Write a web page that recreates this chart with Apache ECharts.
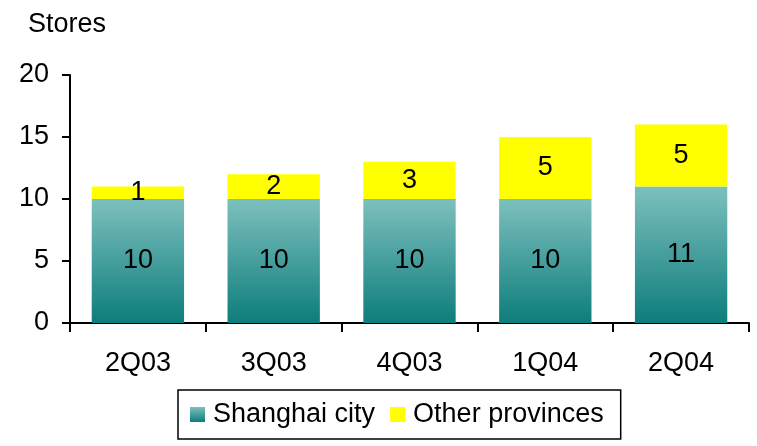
<!DOCTYPE html>
<html>
<head>
<meta charset="utf-8">
<script src="https://cdn.jsdelivr.net/npm/echarts@6/dist/echarts.min.js"></script>
<style>
  html, body { margin: 0; padding: 0; background: #fff; }
  #chart { width: 757px; height: 446px; }
</style>
</head>
<body>
<div id="chart"></div>
<script>
// Store counts per quarter
const quarters = ['2Q03', '3Q03', '4Q03', '1Q04', '2Q04'];
const shanghaiCity = [10, 10, 10, 10, 11];
const otherProvinces = [1, 2, 3, 5, 5];
const yTicks = [0, 5, 10, 15, 20];

const FONT = '"Liberation Sans", Arial, sans-serif';
const chart = echarts.init(document.getElementById('chart'));

const tealGradient = new echarts.graphic.LinearGradient(0, 0, 0, 1, [
  { offset: 0, color: '#7dc0be' },
  { offset: 1, color: '#0d7d7b' }
]);

const labelStyle = {
  show: true,
  position: 'inside',
  color: '#000',
  fontFamily: FONT,
  fontSize: 27
};

chart.setOption({
  animation: false,
  textStyle: { fontFamily: FONT },
  grid: { left: 70, right: 8, top: 75, bottom: 123 },
  title: {
    text: 'Stores',
    left: 23,
    top: 6,
    textStyle: { fontFamily: FONT, fontSize: 27, fontWeight: 'normal', color: '#000' }
  },
  legend: {
    left: 178,
    top: 390,
    icon: 'rect',
    itemWidth: 15,
    itemHeight: 15,
    itemGap: 15,
    padding: [11, 17, 11, 12],
    borderColor: '#000',
    borderWidth: 1.5,
    textStyle: { fontFamily: FONT, fontSize: 27, color: '#000', padding: [0, 0, 0, 3] },
    data: ['Shanghai city', 'Other provinces']
  },
  xAxis: {
    type: 'category',
    data: quarters,
    axisLine: { lineStyle: { color: '#000', width: 2 } },
    axisTick: { show: true, length: 9, lineStyle: { color: '#000', width: 2 } },
    axisLabel: { color: '#000', fontSize: 27, margin: 27, fontFamily: FONT }
  },
  yAxis: {
    type: 'value',
    min: yTicks[0],
    max: yTicks[yTicks.length - 1],
    interval: yTicks[1] - yTicks[0],
    splitLine: { show: false },
    axisLine: { show: true, lineStyle: { color: '#000', width: 2 } },
    axisTick: { show: true, length: 8, lineStyle: { color: '#000', width: 2 } },
    axisLabel: { color: '#000', fontSize: 27, margin: 21, fontFamily: FONT }
  },
  series: [
    {
      name: 'Shanghai city',
      type: 'bar',
      stack: 'stores',
      barWidth: '68%',
      data: shanghaiCity,
      itemStyle: { color: tealGradient },
      label: labelStyle
    },
    {
      name: 'Other provinces',
      type: 'bar',
      stack: 'stores',
      barWidth: '68%',
      data: otherProvinces,
      itemStyle: { color: '#ffff00' },
      label: labelStyle
    }
  ]
});
</script>
</body>
</html>
